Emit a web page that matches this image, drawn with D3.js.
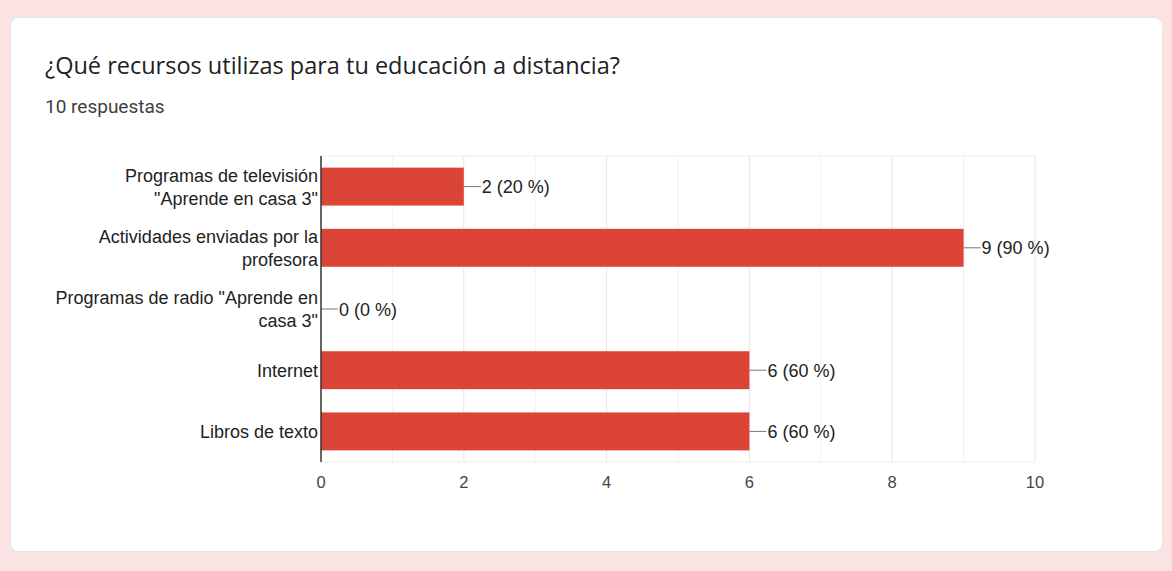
<!DOCTYPE html>
<html>
<head>
<meta charset="utf-8">
<script src="https://cdn.jsdelivr.net/npm/d3@7"></script>
<style>
  html, body { margin: 0; padding: 0; background: #fae3e2; }
  #main { width: 1172px; height: 571px; }
</style>
</head>
<body>
<div id="main"></div>
<script>
const categories = [
    ["Programas de televisión", "\"Aprende en casa 3\""],
    ["Actividades enviadas por la", "profesora"],
    ["Programas de radio \"Aprende en", "casa 3\""],
    ["Internet"],
    ["Libros de texto"]
];
const counts = [2, 9, 0, 6, 6];
const total = 10;
const xTicks = [0, 2, 4, 6, 8, 10];

const ctx = {
    w: 1172,
    h: 571,
    left: 321,
    right: 1035,
    top: 156,
    bottom: 462,
    BAR_COLOR: "#db4437",
    FONT_SIZE: 18,
};

function createViz(){
    let svg = d3.select("#main").append("svg")
        .attr("width", ctx.w)
        .attr("height", ctx.h);

    // card
    svg.append("rect")
        .attr("x", 10.5).attr("y", 17.5)
        .attr("width", 1152).attr("height", 534)
        .attr("rx", 8)
        .attr("fill", "#fff")
        .attr("stroke", "#e3e3e3");

    svg.append("text")
        .attr("x", 45).attr("y", 74)
        .attr("font-family", "'Open Sans', Roboto, sans-serif")
        .attr("font-size", 23.5)
        .attr("fill", "#202124")
        .text("¿Qué recursos utilizas para tu educación a distancia?");

    svg.append("text")
        .attr("x", 45).attr("y", 113)
        .attr("font-family", "Roboto, 'Noto Sans', sans-serif")
        .attr("font-size", 19)
        .attr("fill", "#3c4043")
        .text("10 respuestas");

    let x = d3.scaleLinear().domain([0, 10]).range([ctx.left, ctx.right]);
    let y = d3.scaleBand().domain(d3.range(categories.length))
        .range([ctx.top, ctx.bottom]).paddingInner(0.38).paddingOuter(0.19);

    let g = svg.append("g").attr("font-family", "'Liberation Sans', Arial, sans-serif");

    // gridlines
    g.selectAll("line.grid")
        .data(d3.range(1, 11))
        .enter()
        .append("line")
        .attr("x1", d => x(d)).attr("x2", d => x(d))
        .attr("y1", ctx.top).attr("y2", ctx.bottom)
        .attr("stroke", d => d % 2 === 0 ? "#e6e6e6" : "#f1f1f1")
        .attr("stroke-width", 1);
    [ctx.top, ctx.bottom].forEach(function(yy){
        g.append("line")
            .attr("x1", ctx.left).attr("x2", ctx.right)
            .attr("y1", yy).attr("y2", yy)
            .attr("stroke", "#ececec");
    });

    // bars
    g.selectAll("rect.bar")
        .data(counts)
        .enter()
        .append("rect")
        .attr("x", x(0))
        .attr("y", (d, i) => y(i))
        .attr("width", d => x(d) - x(0))
        .attr("height", y.bandwidth())
        .attr("fill", ctx.BAR_COLOR);

    // value labels with leader lines
    counts.forEach(function(d, i){
        let cy = y(i) + y.bandwidth() / 2;
        g.append("line")
            .attr("x1", x(d)).attr("x2", x(d) + 17)
            .attr("y1", cy).attr("y2", cy)
            .attr("stroke", "#777").attr("stroke-width", 1);
        g.append("text")
            .attr("x", x(d) + 18).attr("y", cy + 6.5)
            .attr("font-size", ctx.FONT_SIZE)
            .attr("fill", "#222")
            .text(d + " (" + Math.round(d / total * 100) + " %)");
    });

    // category labels
    categories.forEach(function(lines, i){
        let cy = y(i) + y.bandwidth() / 2;
        let t = g.append("text")
            .attr("text-anchor", "end")
            .attr("font-size", ctx.FONT_SIZE)
            .attr("fill", "#222");
        let lh = 23;
        let y0 = cy + 6.5 - (lines.length - 1) * lh / 2;
        lines.forEach(function(s, k){
            t.append("tspan").attr("x", 318).attr("y", y0 + k * lh).text(s);
        });
    });

    // axis line
    g.append("line")
        .attr("x1", ctx.left).attr("x2", ctx.left)
        .attr("y1", ctx.top).attr("y2", ctx.bottom)
        .attr("stroke", "#333").attr("stroke-width", 1.5);

    // x tick labels
    g.selectAll("text.tick")
        .data(xTicks)
        .enter()
        .append("text")
        .attr("x", d => x(d))
        .attr("y", 488)
        .attr("text-anchor", "middle")
        .attr("font-size", 16.5)
        .attr("fill", "#444")
        .text(d => d);
}

createViz();
</script>
</body>
</html>
